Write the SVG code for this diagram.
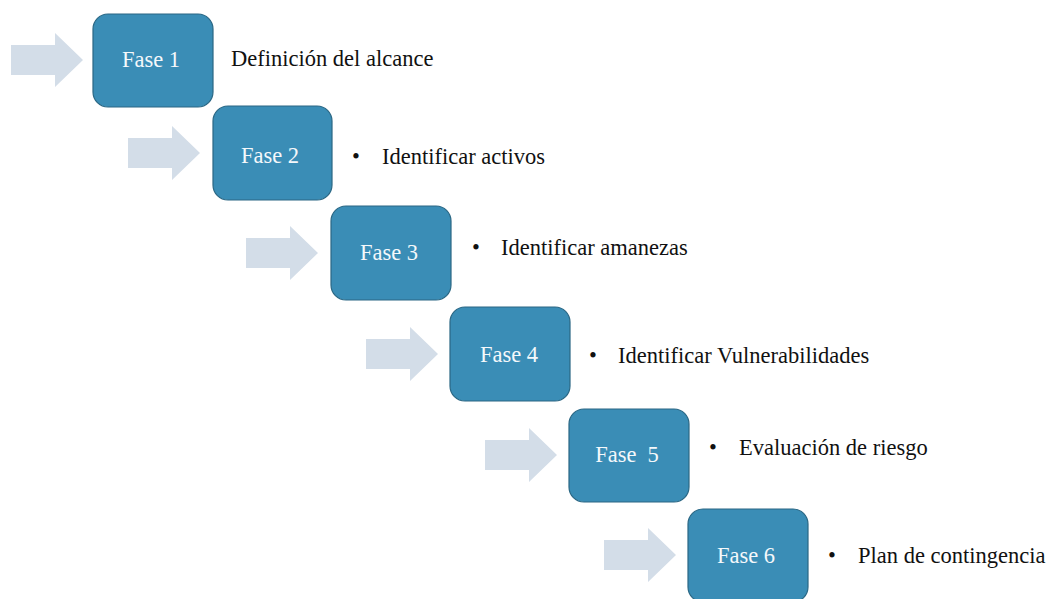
<svg xmlns="http://www.w3.org/2000/svg" xmlns:xlink="http://www.w3.org/1999/xlink" width="1050" height="599" viewBox="0 0 1050 599">
<style>
.box{fill:#3a8db6;stroke:#2a6784;stroke-width:1.2}
.lbl{font-family:"Liberation Serif","Times New Roman",serif;font-size:22.5px;fill:#f4f8fb;text-anchor:middle}
.txt{font-family:"Liberation Serif","Times New Roman",serif;font-size:22.5px;fill:#111111}
.arr{fill:#d3dde8}
</style>
<defs>
<path id="arrow" class="arr" d="M0,-15 L44,-15 L44,-27 L72,0 L44,27 L44,15 L0,15 Z"/>
</defs>
<rect width="1050" height="599" fill="#ffffff"/>
<g id="connectors">
<use xlink:href="#arrow" transform="translate(11,60)"/>
<use xlink:href="#arrow" transform="translate(128,153)"/>
<use xlink:href="#arrow" transform="translate(246,253)"/>
<use xlink:href="#arrow" transform="translate(366,354)"/>
<use xlink:href="#arrow" transform="translate(485,455)"/>
<use xlink:href="#arrow" transform="translate(604,555)"/>
</g>
<g id="fase1">
<rect class="box" x="93" y="14" width="120" height="93" rx="15"/>
<text class="lbl" x="151" y="67">Fase 1</text>
<text class="txt" x="231" y="66">Definición del alcance</text>
</g>
<g id="fase2">
<rect class="box" x="213" y="106" width="119" height="94" rx="15"/>
<text class="lbl" x="270" y="163">Fase 2</text>
<text class="txt" x="352" y="164">•</text>
<text class="txt" x="382" y="164">Identificar activos</text>
</g>
<g id="fase3">
<rect class="box" x="331" y="206" width="120" height="94" rx="15"/>
<text class="lbl" x="389" y="260">Fase 3</text>
<text class="txt" x="472" y="255">•</text>
<text class="txt" x="501" y="255">Identificar amanezas</text>
</g>
<g id="fase4">
<rect class="box" x="450" y="307" width="120" height="94" rx="15"/>
<text class="lbl" x="509" y="362">Fase 4</text>
<text class="txt" x="589" y="363">•</text>
<text class="txt" x="618" y="363">Identificar Vulnerabilidades</text>
</g>
<g id="fase5">
<rect class="box" x="569" y="409" width="120" height="93" rx="15"/>
<text class="lbl" x="627" y="462" xml:space="preserve">Fase  5</text>
<text class="txt" x="709" y="455">•</text>
<text class="txt" x="739" y="455">Evaluación de riesgo</text>
</g>
<g id="fase6">
<rect class="box" x="688" y="509" width="120" height="93" rx="15"/>
<text class="lbl" x="746" y="563">Fase 6</text>
<text class="txt" x="828" y="563">•</text>
<text class="txt" x="858" y="563">Plan de contingencia</text>
</g>
</svg>
